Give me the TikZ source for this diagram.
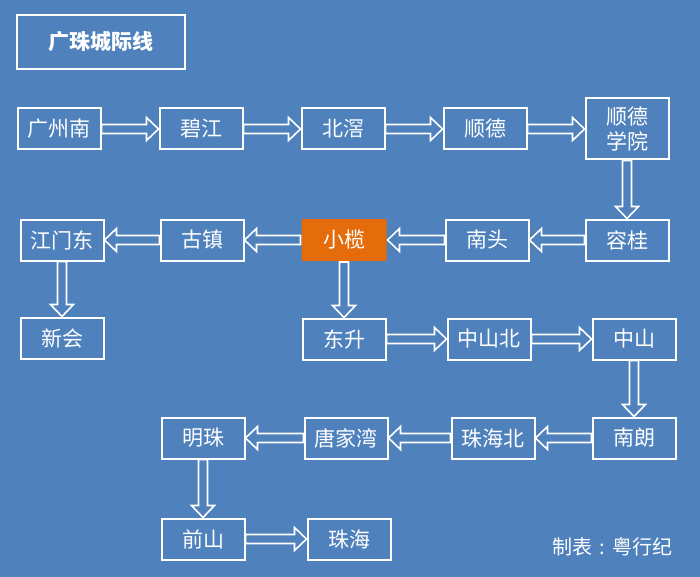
\documentclass[tikz,border=0pt]{standalone}
\usepackage{fontspec}
\usepackage{xcolor}
\usetikzlibrary{positioning, calc}
\newfontfamily\cjk{Noto Sans CJK SC}
\definecolor{bgblue}{HTML}{4F81BD}
\definecolor{hlorange}{HTML}{E46C0A}

\begin{document}
\begin{tikzpicture}[x=1pt, y=-1pt, node distance=142pt,
	station/.style={draw=white, line width=2pt, text=white, inner sep=0pt, align=center,
		font=\cjk\fontsize{21}{25}\selectfont, minimum width=83pt, minimum height=41pt},
	hub/.style={station, draw=none, fill=hlorange, rounded corners=1pt,
		minimum width=85pt, minimum height=42pt},
	hollow/.style={draw=white, line width=1.6pt, fill=bgblue,
		to path={($(\tikztostart)!4.5pt!90:(\tikztotarget)$)
			-- ($($(\tikztotarget)!12pt!(\tikztostart)$)!4.5pt!90:(\tikztotarget)$)
			-- ($($(\tikztotarget)!12pt!(\tikztostart)$)!11.5pt!90:(\tikztotarget)$)
			-- (\tikztotarget)
			-- ($($(\tikztotarget)!12pt!(\tikztostart)$)!11.5pt!-90:(\tikztotarget)$)
			-- ($($(\tikztotarget)!12pt!(\tikztostart)$)!4.5pt!-90:(\tikztotarget)$)
			-- ($(\tikztostart)!4.5pt!-90:(\tikztotarget)$) -- cycle}}]
			\fill[bgblue] (0,0) rectangle (700,577);
			
			\node[station, font=\cjk\bfseries\fontsize{21}{25}\selectfont,
				minimum width=168pt, minimum height=54pt] (title) at (101,42) {广珠城际线};
			
			\node[station] (gzn) at (59,129) {广州南};
			\node[station, right of = gzn] (bj) {碧江};
			\node[station, right of = bj] (bjiao) {北滘};
			\node[station, right of = bjiao] (sd) {顺德};
			\node[station, right of = sd, minimum height=61pt] (sdxy) {顺德\\学院};
			\node[station, below of = sdxy, node distance=111pt] (rg) {容桂};
			\node[station, left of = rg, node distance=140pt] (nt) {南头};
			\node[hub, left of = nt, node distance=143pt] (xl) {小榄};
			\node[station, left of = xl] (gz) {古镇};
			\node[station, left of = gz, node distance=140pt] (jmd) {江门东};
			\node[station, below of = jmd, node distance=98pt] (xh) {新会};
			\node[station, below of = xl, node distance=99pt] (ds) {东升};
			\node[station, right of = ds, node distance=145pt] (zsb) {中山北};
			\node[station, right of = zsb, node distance=145pt] (zs) {中山};
			\node[station, below of = zs, node distance=99pt] (nl) {南朗};
			\node[station, left of = nl, node distance=141pt] (zhb) {珠海北};
			\node[station, left of = zhb, node distance=147pt] (tjw) {唐家湾};
			\node[station, left of = tjw, node distance=143pt] (mz) {明珠};
			\node[station, below of = mz, node distance=101pt] (qs) {前山};
			\node[station, right of = qs, node distance=146pt] (zh) {珠海};
			
			\node[text=white, font=\cjk\fontsize{20}{25}\selectfont] (credit) at (612,547)
				{制表\makebox[1em]{:}粤行纪};
			
			\draw[hollow] (gzn.east) to (bj.west);
			\draw[hollow] (bj.east) to (bjiao.west);
			\draw[hollow] (bjiao.east) to (sd.west);
			\draw[hollow] (sd.east) to (sdxy.west);
			\draw[hollow] (sdxy.south) to (rg.north);
			\draw[hollow] (rg.west) to (nt.east);
			\draw[hollow] (nt.west) to (xl.east);
			\draw[hollow] (xl.west) to (gz.east);
			\draw[hollow] (gz.west) to (jmd.east);
			\draw[hollow] (jmd.south) to (xh.north);
			\draw[hollow] (xl.south) to (ds.north);
			\draw[hollow] (ds.east) to (zsb.west);
			\draw[hollow] (zsb.east) to (zs.west);
			\draw[hollow] (zs.south) to (nl.north);
			\draw[hollow] (nl.west) to (zhb.east);
			\draw[hollow] (zhb.west) to (tjw.east);
			\draw[hollow] (tjw.west) to (mz.east);
			\draw[hollow] (mz.south) to (qs.north);
			\draw[hollow] (qs.east) to (zh.west);
			
		\end{tikzpicture}
\end{document}
